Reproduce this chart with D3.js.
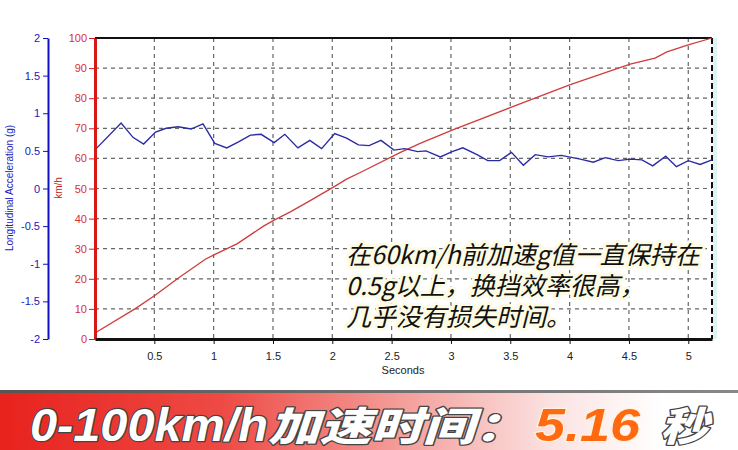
<!DOCTYPE html>
<html><head><meta charset="utf-8">
<script src="https://cdn.jsdelivr.net/npm/d3@7/dist/d3.min.js"></script>
<style>body{margin:0;background:#fff}svg{display:block}</style>
</head><body>
<svg id="c" width="738" height="450"></svg>
<script>
// ---- data ----
const accTime = [0.01,0.22,0.32,0.41,0.51,0.60,0.70,0.81,0.91,1.01,1.11,1.21,1.31,1.40,1.51,1.60,1.71,1.81,1.91,2.02,2.12,2.22,2.31,2.41,2.52,2.61,2.72,2.79,2.91,3.01,3.10,3.22,3.31,3.41,3.51,3.61,3.71,3.82,3.93,4.09,4.20,4.30,4.41,4.51,4.61,4.70,4.81,4.90,5.00,5.10,5.20];
const accG    = [0.53,0.87,0.68,0.59,0.75,0.80,0.82,0.79,0.86,0.60,0.54,0.62,0.71,0.72,0.61,0.72,0.54,0.64,0.53,0.73,0.67,0.58,0.57,0.64,0.51,0.53,0.49,0.50,0.42,0.49,0.54,0.45,0.37,0.37,0.48,0.31,0.45,0.42,0.44,0.39,0.35,0.41,0.37,0.39,0.38,0.30,0.43,0.29,0.37,0.32,0.38];
const spdTime = [0,0.34,0.51,0.70,0.93,1.02,1.20,1.42,1.51,1.65,1.81,2.02,2.12,2.24,2.57,2.74,3.01,3.51,4.00,4.51,4.72,4.82,5.00,5.20];
const spdKmh  = [2,10.1,14.6,20.2,26.5,28.3,31.7,37.5,39.5,42.3,45.9,50.7,53.1,55.4,61.9,65.0,69.4,77.0,84.4,91.3,93.3,95.4,97.7,100];
const xTicks = [0.5,1,1.5,2,2.5,3,3.5,4,4.5,5];
const gTicks = [-2,-1.5,-1,-0.5,0,0.5,1,1.5,2];
const kmhTicks = [0,10,20,30,40,50,60,70,80,90,100];
const noteLines = ["在60km/h前加速g值一直保持在","0.5g以上，换挡效率很高，","几乎没有损失时间。"];
const bannerParts = ["0-100km/h","加速时间：","5.16","秒"];

const svg = d3.select("#c");
const L=95,R=712,T=38,B=339;
const x = d3.scaleLinear([0,5.2],[L,R]);
const yR = d3.scaleLinear([0,100],[B,T]);
const yB = d3.scaleLinear([-2,2],[B,T]);
const tickFont = "'Liberation Sans', Arial, sans-serif";

// grid
const g = svg.append("g");
g.selectAll("line.vg").data(xTicks).join("line")
  .attr("x1",d=>x(d)).attr("x2",d=>x(d)).attr("y1",T).attr("y2",B)
  .attr("stroke","#666").attr("stroke-width",1.2).attr("stroke-dasharray","4,4");
g.selectAll("line.hg").data(kmhTicks.filter(d=>d>0&&d<100)).join("line")
  .attr("x1",L).attr("x2",R).attr("y1",d=>yR(d)).attr("y2",d=>yR(d))
  .attr("stroke","#666").attr("stroke-width",1.2).attr("stroke-dasharray","4,4");

// right band and dashed border
svg.append("rect").attr("x",R+1).attr("y",T).attr("width",4).attr("height",B-T).attr("fill","#dcf4f7");
svg.append("line").attr("x1",R).attr("x2",R).attr("y1",T).attr("y2",B)
  .attr("stroke","#111").attr("stroke-width",2).attr("stroke-dasharray","6,3");
svg.append("line").attr("x1",L).attr("x2",R).attr("y1",T).attr("y2",T).attr("stroke","#111").attr("stroke-width",2);

// series
const lineB = d3.line().x((d,i)=>x(accTime[i])).y(d=>yB(d));
const lineR = d3.line().x((d,i)=>x(spdTime[i])).y(d=>yR(d));
svg.append("path").attr("d",lineR(spdKmh)).attr("fill","none").attr("stroke","#d03c3c").attr("stroke-width",1.3);
svg.append("path").attr("d",lineB(accG)).attr("fill","none").attr("stroke","#2b2ba6").attr("stroke-width",1.4);

// annotation
const note = svg.append("g").attr("font-family","'Noto Sans CJK SC', sans-serif")
  .attr("font-size",25).attr("font-style","italic");
note.selectAll("text").data(noteLines).join("text")
  .attr("x",346).attr("y",(d,i)=>264+i*31)
  .attr("fill","#111").attr("stroke","#fdfbe3").attr("stroke-width",6)
  .attr("stroke-linejoin","round").attr("paint-order","stroke").text(d=>d);

// blue axis
const ba = svg.append("g").attr("transform","translate(48,0)");
ba.call(d3.axisLeft(yB).tickValues(d3.range(-20,21).map(v=>v/10)).tickSize(3).tickFormat("").tickSizeOuter(0));
ba.call(d3.axisLeft(yB).tickValues(gTicks).tickSize(5).tickSizeOuter(0).tickPadding(3).tickFormat(d=>d));
ba.selectAll("path").attr("stroke","#1010c0").attr("stroke-width",2);
ba.selectAll("line").attr("stroke","#1010c0");
ba.selectAll("text").attr("fill","#2020c0").attr("font-family",tickFont).attr("font-size",11);
svg.append("text").attr("transform","translate(13,188) rotate(-90)").attr("text-anchor","middle")
  .attr("font-family",tickFont).attr("font-size",10).attr("fill","#2020c0").text("Longitudinal Acceleration (g)");

// red axis
const ra = svg.append("g").attr("transform",`translate(${L},0)`);
ra.call(d3.axisLeft(yR).tickValues(d3.range(0,101,2)).tickSize(3).tickFormat("").tickSizeOuter(0));
ra.call(d3.axisLeft(yR).tickValues(kmhTicks).tickSize(6).tickSizeOuter(0).tickPadding(2).tickFormat(d=>d));
ra.selectAll("path").attr("stroke","#d81818").attr("stroke-width",3);
ra.selectAll("line").attr("stroke","#d81818");
ra.selectAll("text").attr("fill","#d83030").attr("font-family",tickFont).attr("font-size",11);
svg.append("text").attr("transform","translate(62,188) rotate(-90)").attr("text-anchor","middle")
  .attr("font-family",tickFont).attr("font-size",10).attr("fill","#c82020").text("km/h");

// x axis
const xa = svg.append("g").attr("transform",`translate(0,${B})`);
xa.call(d3.axisBottom(x).tickValues(d3.range(1,52).map(v=>v/10)).tickSize(3).tickFormat("").tickSizeOuter(0));
xa.call(d3.axisBottom(x).tickValues(xTicks).tickSize(5).tickSizeOuter(0).tickPadding(8).tickFormat(d=>d));
xa.selectAll("path").attr("stroke","#111").attr("stroke-width",3);
xa.selectAll("line").attr("stroke","#111");
xa.selectAll("text").attr("fill","#222").attr("font-family",tickFont).attr("font-size",11);
svg.append("text").attr("x",403).attr("y",374).attr("text-anchor","middle")
  .attr("font-family",tickFont).attr("font-size",11).attr("fill","#222").text("Seconds");

// banner
const defs = svg.append("defs");
const grad = defs.append("linearGradient").attr("id","bg").attr("x1","0").attr("x2","1").attr("y1","0").attr("y2","0");
[[0,"#e8221d"],[0.3,"#ee4a45"],[0.55,"#f4a09c"],[0.75,"#fbe3e2"],[0.9,"#ffffff"],[1,"#ffffff"]]
  .forEach(s=>grad.append("stop").attr("offset",s[0]).attr("stop-color",s[1]));
const lg = defs.append("linearGradient").attr("id","tl").attr("x1","0").attr("x2","1");
lg.append("stop").attr("offset",0).attr("stop-color","#555");
lg.append("stop").attr("offset",1).attr("stop-color","#888");
svg.append("rect").attr("x",0).attr("y",390).attr("width",738).attr("height",3).attr("fill","url(#tl)");
svg.append("rect").attr("x",0).attr("y",393).attr("width",738).attr("height",57).attr("fill","url(#bg)");

const bx = [[30,238],[268,258],[535,105],[660,48]];
const bcol = ["#fff","#fff","#ff6a10","#fff"];
const bst = ["#444","#444","#fff2e0","#444"];
svg.append("g").selectAll("text").data(bannerParts).join("text")
  .attr("x",(d,i)=>bx[i][0]).attr("y",441)
  .attr("textLength",(d,i)=>bx[i][1]).attr("lengthAdjust","spacingAndGlyphs")
  .attr("font-family",(d,i)=>i%2===0&&i<3?"'Liberation Sans', Arial, sans-serif":"'Noto Sans CJK SC', sans-serif")
  .attr("font-size",(d,i)=>i%2===0&&i<3?46:40).attr("font-weight",900).attr("font-style","italic")
  .attr("fill",(d,i)=>bcol[i]).attr("stroke",(d,i)=>bst[i]).attr("stroke-width",2.5)
  .attr("paint-order","stroke").attr("stroke-linejoin","round").text(d=>d);
</script>
</body></html>
